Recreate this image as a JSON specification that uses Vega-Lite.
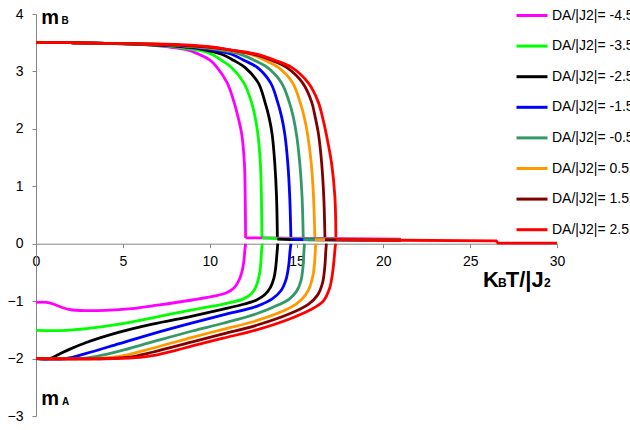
{
  "$schema": "https://vega.github.io/schema/vega-lite/v6.json",
  "width": 521,
  "height": 402,
  "autosize": {"type": "none"},
  "padding": {"left": 36, "top": 14, "right": 73, "bottom": 14},
  "background": "white",
  "config": {"view": {"stroke": null}, "font": "Liberation Sans"},
  "datasets": {
    "curves": [
      {"s":"DA/|J2|= -4.5","b":"mB","x":0,"y":3.5},{"s":"DA/|J2|= -4.5","b":"mB","x":2,"y":3.5},{"s":"DA/|J2|= -4.5","b":"mB","x":4,"y":3.49},{"s":"DA/|J2|= -4.5","b":"mB","x":6,"y":3.47},{"s":"DA/|J2|= -4.5","b":"mB","x":7.5,"y":3.43},{"s":"DA/|J2|= -4.5","b":"mB","x":8.67,"y":3.38},{"s":"DA/|J2|= -4.5","b":"mB","x":9.44,"y":3.29},{"s":"DA/|J2|= -4.5","b":"mB","x":10.0,"y":3.2},{"s":"DA/|J2|= -4.5","b":"mB","x":10.4,"y":3.08},{"s":"DA/|J2|= -4.5","b":"mB","x":11.01,"y":2.8},{"s":"DA/|J2|= -4.5","b":"mB","x":11.4,"y":2.47},{"s":"DA/|J2|= -4.5","b":"mB","x":11.64,"y":2.2},{"s":"DA/|J2|= -4.5","b":"mB","x":11.85,"y":1.9},{"s":"DA/|J2|= -4.5","b":"mB","x":12.0,"y":1.4},{"s":"DA/|J2|= -4.5","b":"mB","x":12.045,"y":0.82},{"s":"DA/|J2|= -4.5","b":"mB","x":12.07,"y":0.1},
      {"s":"DA/|J2|= -4.5","b":"tail","x":12.07,"y":0.1},{"s":"DA/|J2|= -4.5","b":"tail","x":13.0,"y":0.1},{"s":"DA/|J2|= -4.5","b":"tail","x":21,"y":0.08},
      {"s":"DA/|J2|= -4.5","b":"mA","x":0,"y":-1.02},{"s":"DA/|J2|= -4.5","b":"mA","x":0.6,"y":-1.02},{"s":"DA/|J2|= -4.5","b":"mA","x":1.0,"y":-1.05},{"s":"DA/|J2|= -4.5","b":"mA","x":1.5,"y":-1.11},{"s":"DA/|J2|= -4.5","b":"mA","x":2.0,"y":-1.15},{"s":"DA/|J2|= -4.5","b":"mA","x":2.9,"y":-1.165},{"s":"DA/|J2|= -4.5","b":"mA","x":4.0,"y":-1.16},{"s":"DA/|J2|= -4.5","b":"mA","x":5.5,"y":-1.13},{"s":"DA/|J2|= -4.5","b":"mA","x":7.0,"y":-1.07},{"s":"DA/|J2|= -4.5","b":"mA","x":9.0,"y":-0.98},{"s":"DA/|J2|= -4.5","b":"mA","x":10.3,"y":-0.91},{"s":"DA/|J2|= -4.5","b":"mA","x":11.0,"y":-0.85},{"s":"DA/|J2|= -4.5","b":"mA","x":11.4,"y":-0.77},{"s":"DA/|J2|= -4.5","b":"mA","x":11.65,"y":-0.66},{"s":"DA/|J2|= -4.5","b":"mA","x":11.85,"y":-0.5},{"s":"DA/|J2|= -4.5","b":"mA","x":11.97,"y":-0.3},{"s":"DA/|J2|= -4.5","b":"mA","x":12.03,"y":-0.1},{"s":"DA/|J2|= -4.5","b":"mA","x":12.07,"y":0},

      {"s":"DA/|J2|= -3.5","b":"mB","x":0,"y":3.5},{"s":"DA/|J2|= -3.5","b":"mB","x":2,"y":3.5},{"s":"DA/|J2|= -3.5","b":"mB","x":4,"y":3.49},{"s":"DA/|J2|= -3.5","b":"mB","x":6,"y":3.47},{"s":"DA/|J2|= -3.5","b":"mB","x":8,"y":3.43},{"s":"DA/|J2|= -3.5","b":"mB","x":9.5,"y":3.36},{"s":"DA/|J2|= -3.5","b":"mB","x":10.11,"y":3.3},{"s":"DA/|J2|= -3.5","b":"mB","x":10.7,"y":3.19},{"s":"DA/|J2|= -3.5","b":"mB","x":11.26,"y":3.07},{"s":"DA/|J2|= -3.5","b":"mB","x":11.97,"y":2.8},{"s":"DA/|J2|= -3.5","b":"mB","x":12.4,"y":2.47},{"s":"DA/|J2|= -3.5","b":"mB","x":12.62,"y":2.2},{"s":"DA/|J2|= -3.5","b":"mB","x":12.78,"y":1.9},{"s":"DA/|J2|= -3.5","b":"mB","x":12.92,"y":1.4},{"s":"DA/|J2|= -3.5","b":"mB","x":12.98,"y":0.82},{"s":"DA/|J2|= -3.5","b":"mB","x":13.01,"y":0.1},
      {"s":"DA/|J2|= -3.5","b":"tail","x":13.01,"y":0.1},{"s":"DA/|J2|= -3.5","b":"tail","x":13.9,"y":0.09},{"s":"DA/|J2|= -3.5","b":"tail","x":21,"y":0.07},
      {"s":"DA/|J2|= -3.5","b":"mA","x":0,"y":-1.51},{"s":"DA/|J2|= -3.5","b":"mA","x":1.7,"y":-1.51},{"s":"DA/|J2|= -3.5","b":"mA","x":2.9,"y":-1.48},{"s":"DA/|J2|= -3.5","b":"mA","x":4.8,"y":-1.4},{"s":"DA/|J2|= -3.5","b":"mA","x":6.7,"y":-1.29},{"s":"DA/|J2|= -3.5","b":"mA","x":9.0,"y":-1.15},{"s":"DA/|J2|= -3.5","b":"mA","x":10.78,"y":-1.05},{"s":"DA/|J2|= -3.5","b":"mA","x":11.94,"y":-0.96},{"s":"DA/|J2|= -3.5","b":"mA","x":12.4,"y":-0.87},{"s":"DA/|J2|= -3.5","b":"mA","x":12.65,"y":-0.76},{"s":"DA/|J2|= -3.5","b":"mA","x":12.82,"y":-0.6},{"s":"DA/|J2|= -3.5","b":"mA","x":12.92,"y":-0.42},{"s":"DA/|J2|= -3.5","b":"mA","x":12.99,"y":-0.12},{"s":"DA/|J2|= -3.5","b":"mA","x":13.03,"y":0},

      {"s":"DA/|J2|= -2.5","b":"mB","x":0,"y":3.5},{"s":"DA/|J2|= -2.5","b":"mB","x":2,"y":3.5},{"s":"DA/|J2|= -2.5","b":"mB","x":4,"y":3.49},{"s":"DA/|J2|= -2.5","b":"mB","x":6,"y":3.47},{"s":"DA/|J2|= -2.5","b":"mB","x":8,"y":3.44},{"s":"DA/|J2|= -2.5","b":"mB","x":9.5,"y":3.39},{"s":"DA/|J2|= -2.5","b":"mB","x":10.69,"y":3.3},{"s":"DA/|J2|= -2.5","b":"mB","x":11.4,"y":3.19},{"s":"DA/|J2|= -2.5","b":"mB","x":12.03,"y":3.07},{"s":"DA/|J2|= -2.5","b":"mB","x":12.8,"y":2.8},{"s":"DA/|J2|= -2.5","b":"mB","x":13.18,"y":2.47},{"s":"DA/|J2|= -2.5","b":"mB","x":13.42,"y":2.2},{"s":"DA/|J2|= -2.5","b":"mB","x":13.6,"y":1.9},{"s":"DA/|J2|= -2.5","b":"mB","x":13.75,"y":1.4},{"s":"DA/|J2|= -2.5","b":"mB","x":13.85,"y":0.82},{"s":"DA/|J2|= -2.5","b":"mB","x":13.9,"y":0.08},
      {"s":"DA/|J2|= -2.5","b":"tail","x":13.9,"y":0.08},{"s":"DA/|J2|= -2.5","b":"tail","x":14.7,"y":0.07},{"s":"DA/|J2|= -2.5","b":"tail","x":21,"y":0.06},
      {"s":"DA/|J2|= -2.5","b":"mA","x":0,"y":-2},{"s":"DA/|J2|= -2.5","b":"mA","x":0.77,"y":-2},{"s":"DA/|J2|= -2.5","b":"mA","x":1.3,"y":-1.93},{"s":"DA/|J2|= -2.5","b":"mA","x":1.92,"y":-1.84},{"s":"DA/|J2|= -2.5","b":"mA","x":2.9,"y":-1.72},{"s":"DA/|J2|= -2.5","b":"mA","x":4.8,"y":-1.54},{"s":"DA/|J2|= -2.5","b":"mA","x":6.7,"y":-1.4},{"s":"DA/|J2|= -2.5","b":"mA","x":9.0,"y":-1.26},{"s":"DA/|J2|= -2.5","b":"mA","x":10.78,"y":-1.14},{"s":"DA/|J2|= -2.5","b":"mA","x":12.0,"y":-1.05},{"s":"DA/|J2|= -2.5","b":"mA","x":12.7,"y":-0.98},{"s":"DA/|J2|= -2.5","b":"mA","x":13.2,"y":-0.88},{"s":"DA/|J2|= -2.5","b":"mA","x":13.5,"y":-0.76},{"s":"DA/|J2|= -2.5","b":"mA","x":13.7,"y":-0.6},{"s":"DA/|J2|= -2.5","b":"mA","x":13.8,"y":-0.42},{"s":"DA/|J2|= -2.5","b":"mA","x":13.88,"y":-0.15},{"s":"DA/|J2|= -2.5","b":"mA","x":13.92,"y":0},

      {"s":"DA/|J2|= -1.5","b":"mB","x":0,"y":3.5},{"s":"DA/|J2|= -1.5","b":"mB","x":2,"y":3.5},{"s":"DA/|J2|= -1.5","b":"mB","x":4,"y":3.49},{"s":"DA/|J2|= -1.5","b":"mB","x":6,"y":3.48},{"s":"DA/|J2|= -1.5","b":"mB","x":8,"y":3.45},{"s":"DA/|J2|= -1.5","b":"mB","x":10,"y":3.38},{"s":"DA/|J2|= -1.5","b":"mB","x":11.26,"y":3.3},{"s":"DA/|J2|= -1.5","b":"mB","x":12.0,"y":3.19},{"s":"DA/|J2|= -1.5","b":"mB","x":12.74,"y":3.07},{"s":"DA/|J2|= -1.5","b":"mB","x":13.51,"y":2.8},{"s":"DA/|J2|= -1.5","b":"mB","x":13.91,"y":2.47},{"s":"DA/|J2|= -1.5","b":"mB","x":14.15,"y":2.2},{"s":"DA/|J2|= -1.5","b":"mB","x":14.33,"y":1.9},{"s":"DA/|J2|= -1.5","b":"mB","x":14.5,"y":1.4},{"s":"DA/|J2|= -1.5","b":"mB","x":14.61,"y":0.82},{"s":"DA/|J2|= -1.5","b":"mB","x":14.68,"y":0.07},
      {"s":"DA/|J2|= -1.5","b":"tail","x":14.68,"y":0.07},{"s":"DA/|J2|= -1.5","b":"tail","x":15.4,"y":0.07},{"s":"DA/|J2|= -1.5","b":"tail","x":21,"y":0.06},
      {"s":"DA/|J2|= -1.5","b":"mA","x":0,"y":-2},{"s":"DA/|J2|= -1.5","b":"mA","x":1.73,"y":-2},{"s":"DA/|J2|= -1.5","b":"mA","x":2.9,"y":-1.91},{"s":"DA/|J2|= -1.5","b":"mA","x":4.8,"y":-1.74},{"s":"DA/|J2|= -1.5","b":"mA","x":6.7,"y":-1.57},{"s":"DA/|J2|= -1.5","b":"mA","x":9.0,"y":-1.38},{"s":"DA/|J2|= -1.5","b":"mA","x":10.78,"y":-1.24},{"s":"DA/|J2|= -1.5","b":"mA","x":12.7,"y":-1.09},{"s":"DA/|J2|= -1.5","b":"mA","x":13.6,"y":-0.96},{"s":"DA/|J2|= -1.5","b":"mA","x":14.1,"y":-0.82},{"s":"DA/|J2|= -1.5","b":"mA","x":14.4,"y":-0.62},{"s":"DA/|J2|= -1.5","b":"mA","x":14.55,"y":-0.38},{"s":"DA/|J2|= -1.5","b":"mA","x":14.63,"y":-0.12},{"s":"DA/|J2|= -1.5","b":"mA","x":14.68,"y":0},

      {"s":"DA/|J2|= -0.5","b":"mB","x":0,"y":3.5},{"s":"DA/|J2|= -0.5","b":"mB","x":2,"y":3.5},{"s":"DA/|J2|= -0.5","b":"mB","x":4,"y":3.49},{"s":"DA/|J2|= -0.5","b":"mB","x":6,"y":3.48},{"s":"DA/|J2|= -0.5","b":"mB","x":8,"y":3.46},{"s":"DA/|J2|= -0.5","b":"mB","x":10,"y":3.4},{"s":"DA/|J2|= -0.5","b":"mB","x":11.74,"y":3.3},{"s":"DA/|J2|= -0.5","b":"mB","x":12.6,"y":3.19},{"s":"DA/|J2|= -0.5","b":"mB","x":13.32,"y":3.07},{"s":"DA/|J2|= -0.5","b":"mB","x":14.14,"y":2.8},{"s":"DA/|J2|= -0.5","b":"mB","x":14.58,"y":2.47},{"s":"DA/|J2|= -0.5","b":"mB","x":14.82,"y":2.2},{"s":"DA/|J2|= -0.5","b":"mB","x":15.0,"y":1.9},{"s":"DA/|J2|= -0.5","b":"mB","x":15.19,"y":1.4},{"s":"DA/|J2|= -0.5","b":"mB","x":15.32,"y":0.82},{"s":"DA/|J2|= -0.5","b":"mB","x":15.39,"y":0.07},
      {"s":"DA/|J2|= -0.5","b":"tail","x":15.39,"y":0.07},{"s":"DA/|J2|= -0.5","b":"tail","x":16.06,"y":0.07},{"s":"DA/|J2|= -0.5","b":"tail","x":21,"y":0.06},
      {"s":"DA/|J2|= -0.5","b":"mA","x":0,"y":-2},{"s":"DA/|J2|= -0.5","b":"mA","x":2.5,"y":-2},{"s":"DA/|J2|= -0.5","b":"mA","x":3.5,"y":-1.96},{"s":"DA/|J2|= -0.5","b":"mA","x":4.8,"y":-1.87},{"s":"DA/|J2|= -0.5","b":"mA","x":6.7,"y":-1.71},{"s":"DA/|J2|= -0.5","b":"mA","x":9.0,"y":-1.52},{"s":"DA/|J2|= -0.5","b":"mA","x":10.78,"y":-1.385},{"s":"DA/|J2|= -0.5","b":"mA","x":12.7,"y":-1.22},{"s":"DA/|J2|= -0.5","b":"mA","x":14.0,"y":-1.06},{"s":"DA/|J2|= -0.5","b":"mA","x":14.6,"y":-0.96},{"s":"DA/|J2|= -0.5","b":"mA","x":15.0,"y":-0.83},{"s":"DA/|J2|= -0.5","b":"mA","x":15.25,"y":-0.65},{"s":"DA/|J2|= -0.5","b":"mA","x":15.37,"y":-0.42},{"s":"DA/|J2|= -0.5","b":"mA","x":15.43,"y":-0.12},{"s":"DA/|J2|= -0.5","b":"mA","x":15.46,"y":0},

      {"s":"DA/|J2|= 0.5","b":"mB","x":0,"y":3.5},{"s":"DA/|J2|= 0.5","b":"mB","x":2,"y":3.5},{"s":"DA/|J2|= 0.5","b":"mB","x":4,"y":3.49},{"s":"DA/|J2|= 0.5","b":"mB","x":6,"y":3.48},{"s":"DA/|J2|= 0.5","b":"mB","x":8,"y":3.46},{"s":"DA/|J2|= 0.5","b":"mB","x":10,"y":3.41},{"s":"DA/|J2|= 0.5","b":"mB","x":12.32,"y":3.3},{"s":"DA/|J2|= 0.5","b":"mB","x":13.2,"y":3.19},{"s":"DA/|J2|= 0.5","b":"mB","x":13.95,"y":3.07},{"s":"DA/|J2|= 0.5","b":"mB","x":14.78,"y":2.8},{"s":"DA/|J2|= 0.5","b":"mB","x":15.2,"y":2.47},{"s":"DA/|J2|= 0.5","b":"mB","x":15.45,"y":2.2},{"s":"DA/|J2|= 0.5","b":"mB","x":15.64,"y":1.9},{"s":"DA/|J2|= 0.5","b":"mB","x":15.85,"y":1.4},{"s":"DA/|J2|= 0.5","b":"mB","x":15.98,"y":0.82},{"s":"DA/|J2|= 0.5","b":"mB","x":16.06,"y":0.07},
      {"s":"DA/|J2|= 0.5","b":"tail","x":16.06,"y":0.07},{"s":"DA/|J2|= 0.5","b":"tail","x":16.64,"y":0.07},{"s":"DA/|J2|= 0.5","b":"tail","x":21,"y":0.06},
      {"s":"DA/|J2|= 0.5","b":"mA","x":0,"y":-2},{"s":"DA/|J2|= 0.5","b":"mA","x":3.3,"y":-2},{"s":"DA/|J2|= 0.5","b":"mA","x":4.8,"y":-1.96},{"s":"DA/|J2|= 0.5","b":"mA","x":6.7,"y":-1.82},{"s":"DA/|J2|= 0.5","b":"mA","x":9.0,"y":-1.63},{"s":"DA/|J2|= 0.5","b":"mA","x":10.78,"y":-1.49},{"s":"DA/|J2|= 0.5","b":"mA","x":12.7,"y":-1.34},{"s":"DA/|J2|= 0.5","b":"mA","x":14.6,"y":-1.12},{"s":"DA/|J2|= 0.5","b":"mA","x":15.3,"y":-0.97},{"s":"DA/|J2|= 0.5","b":"mA","x":15.7,"y":-0.8},{"s":"DA/|J2|= 0.5","b":"mA","x":15.95,"y":-0.55},{"s":"DA/|J2|= 0.5","b":"mA","x":16.05,"y":-0.3},{"s":"DA/|J2|= 0.5","b":"mA","x":16.09,"y":-0.08},{"s":"DA/|J2|= 0.5","b":"mA","x":16.11,"y":0},

      {"s":"DA/|J2|= 1.5","b":"mB","x":0,"y":3.5},{"s":"DA/|J2|= 1.5","b":"mB","x":2,"y":3.5},{"s":"DA/|J2|= 1.5","b":"mB","x":4,"y":3.49},{"s":"DA/|J2|= 1.5","b":"mB","x":6,"y":3.48},{"s":"DA/|J2|= 1.5","b":"mB","x":8,"y":3.46},{"s":"DA/|J2|= 1.5","b":"mB","x":10,"y":3.42},{"s":"DA/|J2|= 1.5","b":"mB","x":12.5,"y":3.3},{"s":"DA/|J2|= 1.5","b":"mB","x":13.6,"y":3.19},{"s":"DA/|J2|= 1.5","b":"mB","x":14.43,"y":3.07},{"s":"DA/|J2|= 1.5","b":"mB","x":15.35,"y":2.8},{"s":"DA/|J2|= 1.5","b":"mB","x":15.87,"y":2.47},{"s":"DA/|J2|= 1.5","b":"mB","x":16.08,"y":2.2},{"s":"DA/|J2|= 1.5","b":"mB","x":16.27,"y":1.9},{"s":"DA/|J2|= 1.5","b":"mB","x":16.45,"y":1.4},{"s":"DA/|J2|= 1.5","b":"mB","x":16.57,"y":0.82},{"s":"DA/|J2|= 1.5","b":"mB","x":16.64,"y":0.07},
      {"s":"DA/|J2|= 1.5","b":"tail","x":16.64,"y":0.07},{"s":"DA/|J2|= 1.5","b":"tail","x":17.27,"y":0.07},{"s":"DA/|J2|= 1.5","b":"tail","x":21,"y":0.06},
      {"s":"DA/|J2|= 1.5","b":"mA","x":0,"y":-2},{"s":"DA/|J2|= 1.5","b":"mA","x":4.0,"y":-2},{"s":"DA/|J2|= 1.5","b":"mA","x":5.5,"y":-1.97},{"s":"DA/|J2|= 1.5","b":"mA","x":6.7,"y":-1.89},{"s":"DA/|J2|= 1.5","b":"mA","x":9.0,"y":-1.71},{"s":"DA/|J2|= 1.5","b":"mA","x":10.78,"y":-1.57},{"s":"DA/|J2|= 1.5","b":"mA","x":12.7,"y":-1.42},{"s":"DA/|J2|= 1.5","b":"mA","x":14.6,"y":-1.22},{"s":"DA/|J2|= 1.5","b":"mA","x":15.7,"y":-1.05},{"s":"DA/|J2|= 1.5","b":"mA","x":16.2,"y":-0.9},{"s":"DA/|J2|= 1.5","b":"mA","x":16.5,"y":-0.68},{"s":"DA/|J2|= 1.5","b":"mA","x":16.63,"y":-0.4},{"s":"DA/|J2|= 1.5","b":"mA","x":16.69,"y":-0.12},{"s":"DA/|J2|= 1.5","b":"mA","x":16.72,"y":0},

      {"s":"DA/|J2|= 2.5","b":"mB","x":0,"y":3.5},{"s":"DA/|J2|= 2.5","b":"mB","x":2,"y":3.5},{"s":"DA/|J2|= 2.5","b":"mB","x":4,"y":3.49},{"s":"DA/|J2|= 2.5","b":"mB","x":6,"y":3.48},{"s":"DA/|J2|= 2.5","b":"mB","x":8,"y":3.47},{"s":"DA/|J2|= 2.5","b":"mB","x":10,"y":3.43},{"s":"DA/|J2|= 2.5","b":"mB","x":11.5,"y":3.36},{"s":"DA/|J2|= 2.5","b":"mB","x":12.7,"y":3.3},{"s":"DA/|J2|= 2.5","b":"mB","x":13.8,"y":3.19},{"s":"DA/|J2|= 2.5","b":"mB","x":14.72,"y":3.07},{"s":"DA/|J2|= 2.5","b":"mB","x":15.68,"y":2.8},{"s":"DA/|J2|= 2.5","b":"mB","x":16.25,"y":2.47},{"s":"DA/|J2|= 2.5","b":"mB","x":16.5,"y":2.2},{"s":"DA/|J2|= 2.5","b":"mB","x":16.72,"y":1.9},{"s":"DA/|J2|= 2.5","b":"mB","x":17.02,"y":1.4},{"s":"DA/|J2|= 2.5","b":"mB","x":17.21,"y":0.82},{"s":"DA/|J2|= 2.5","b":"mB","x":17.27,"y":0.07},
      {"s":"DA/|J2|= 2.5","b":"tail","x":17.27,"y":0.07},{"s":"DA/|J2|= 2.5","b":"tail","x":21,"y":0.06},{"s":"DA/|J2|= 2.5","b":"tail","x":26.5,"y":0.05},{"s":"DA/|J2|= 2.5","b":"tail","x":26.6,"y":0.01},{"s":"DA/|J2|= 2.5","b":"tail","x":30,"y":0.01},
      {"s":"DA/|J2|= 2.5","b":"mA","x":0,"y":-2},{"s":"DA/|J2|= 2.5","b":"mA","x":4.5,"y":-2},{"s":"DA/|J2|= 2.5","b":"mA","x":6.0,"y":-1.98},{"s":"DA/|J2|= 2.5","b":"mA","x":6.7,"y":-1.95},{"s":"DA/|J2|= 2.5","b":"mA","x":8.0,"y":-1.86},{"s":"DA/|J2|= 2.5","b":"mA","x":9.0,"y":-1.78},{"s":"DA/|J2|= 2.5","b":"mA","x":10.78,"y":-1.645},{"s":"DA/|J2|= 2.5","b":"mA","x":12.7,"y":-1.5},{"s":"DA/|J2|= 2.5","b":"mA","x":14.6,"y":-1.31},{"s":"DA/|J2|= 2.5","b":"mA","x":15.8,"y":-1.15},{"s":"DA/|J2|= 2.5","b":"mA","x":16.54,"y":-1.0},{"s":"DA/|J2|= 2.5","b":"mA","x":16.9,"y":-0.78},{"s":"DA/|J2|= 2.5","b":"mA","x":17.08,"y":-0.5},{"s":"DA/|J2|= 2.5","b":"mA","x":17.18,"y":-0.22},{"s":"DA/|J2|= 2.5","b":"mA","x":17.23,"y":-0.05},{"s":"DA/|J2|= 2.5","b":"mA","x":17.26,"y":0}
    ],
    "bigM": [{"t":"m","x":0.3,"y":3.826},{"t":"m","x":0.3,"y":-2.81}],
    "subM": [{"t":"B","x":1.47,"y":3.826},{"t":"A","x":1.5,"y":-2.81}],
    "bigK": [{"t":"K","x":25.74,"y":-0.754},{"t":"T/|J","x":27.05,"y":-0.754}],
    "subK": [{"t":"B","x":26.6,"y":-0.754},{"t":"2","x":29.25,"y":-0.754}]
  },
  "layer": [
    {
      "data": {"name": "curves"},
      "transform": [{"filter": "datum.b != 'tail'"}],
      "mark": {"type": "line", "strokeWidth": 2.8, "interpolate": "catmull-rom", "clip": true},
      "encoding": {
        "x": {"field": "x", "type": "quantitative",
          "scale": {"domain": [0, 30], "nice": false, "zero": false},
          "axis": {"values": [0, 5, 10, 15, 20, 25, 30], "title": null, "grid": false, "offset": -172.3, "format": "d",
            "domainColor": "#868686", "tickColor": "#868686", "tickSize": 4, "labelFontSize": 14,
            "labelColor": "#000000", "labelPadding": 7, "labelFont": "Liberation Sans",
            "labelFlush": false, "labelOverlap": false, "labelBound": false}},
        "y": {"field": "y", "type": "quantitative",
          "scale": {"domain": [-3, 4], "nice": false, "zero": false},
          "axis": {"values": [-3, -2, -1, 0, 1, 2, 3, 4], "title": null, "grid": false, "format": "d",
            "domainColor": "#868686", "tickColor": "#868686", "tickSize": 4, "labelFontSize": 14,
            "labelColor": "#000000", "labelPadding": 9, "labelFont": "Liberation Sans",
            "labelFlush": false, "labelOverlap": false, "labelBound": false}},
        "color": {"field": "s", "type": "nominal",
          "scale": {"domain": ["DA/|J2|= -4.5", "DA/|J2|= -3.5", "DA/|J2|= -2.5", "DA/|J2|= -1.5", "DA/|J2|= -0.5", "DA/|J2|= 0.5", "DA/|J2|= 1.5", "DA/|J2|= 2.5"],
            "range": ["#FF00FF", "#00FF00", "#000000", "#0000FF", "#339966", "#FF9900", "#800000", "#FF0000"]},
          "legend": {"orient": "none", "legendX": 479, "legendY": -15.5, "title": null,
            "symbolType": "stroke", "symbolSize": 961, "symbolStrokeWidth": 3,
            "labelFontSize": 14, "labelFont": "Liberation Sans", "labelColor": "#000000",
            "labelOffset": 3, "rowPadding": 6.6, "padding": 0, "labelLimit": 300}},
        "detail": {"field": "b"}
      }
    },
    {
      "data": {"name": "curves"},
      "transform": [{"filter": "datum.b == 'tail'"}],
      "mark": {"type": "line", "strokeWidth": 2.8, "interpolate": "linear", "clip": true},
      "encoding": {
        "x": {"field": "x", "type": "quantitative"},
        "y": {"field": "y", "type": "quantitative"},
        "color": {"field": "s", "type": "nominal",
          "legend": {"orient": "none", "legendX": 479, "legendY": -15.5, "title": null,
            "symbolType": "stroke", "symbolSize": 961, "symbolStrokeWidth": 3,
            "labelFontSize": 14, "labelFont": "Liberation Sans", "labelColor": "#000000",
            "labelOffset": 3, "rowPadding": 6.6, "padding": 0, "labelLimit": 300}},
        "detail": {"field": "b"}
      }
    },
    {
      "data": {"name": "bigM"},
      "mark": {"type": "text", "fontSize": 20, "fontWeight": "bold", "align": "left", "baseline": "alphabetic", "font": "Liberation Sans", "color": "#000000"},
      "encoding": {"x": {"field": "x", "type": "quantitative"}, "y": {"field": "y", "type": "quantitative"}, "text": {"field": "t"}}
    },
    {
      "data": {"name": "subM"},
      "mark": {"type": "text", "fontSize": 10, "fontWeight": "bold", "align": "left", "baseline": "alphabetic", "font": "Liberation Sans", "color": "#000000"},
      "encoding": {"x": {"field": "x", "type": "quantitative"}, "y": {"field": "y", "type": "quantitative"}, "text": {"field": "t"}}
    },
    {
      "data": {"name": "bigK"},
      "mark": {"type": "text", "fontSize": 22, "fontWeight": "bold", "align": "left", "baseline": "alphabetic", "font": "Liberation Sans", "color": "#000000"},
      "encoding": {"x": {"field": "x", "type": "quantitative"}, "y": {"field": "y", "type": "quantitative"}, "text": {"field": "t"}}
    },
    {
      "data": {"name": "subK"},
      "mark": {"type": "text", "fontSize": 12, "fontWeight": "bold", "align": "left", "baseline": "alphabetic", "font": "Liberation Sans", "color": "#000000"},
      "encoding": {"x": {"field": "x", "type": "quantitative"}, "y": {"field": "y", "type": "quantitative"}, "text": {"field": "t"}}
    }
  ]
}
